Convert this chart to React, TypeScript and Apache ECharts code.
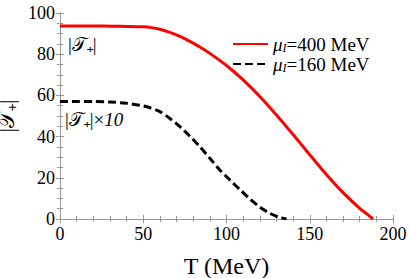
import React, { useEffect, useRef } from "react";
import * as echarts from "echarts";

const temps400 = [0, 10, 20, 30, 40, 50, 55, 60, 66, 72, 78, 84, 90, 100, 110, 120, 130, 140, 150, 160, 170, 180, 185, 188];
const vals400 = [93.7, 93.7, 93.7, 93.6, 93.5, 93.3, 92.9, 92.1, 90.6, 88.6, 86.2, 83.5, 80.4, 74.5, 67.5, 59.5, 50.5, 41.0, 31.2, 21.6, 12.8, 5.2, 2.0, 0];
const temps160 = [0, 10, 20, 30, 40, 48, 54, 60, 66, 72, 78, 84, 90, 96, 102, 108, 114, 120, 126, 131, 136];
const vals160 = [57.0, 57.0, 57.0, 56.8, 56.2, 55.2, 54.0, 52.1, 48.8, 44.8, 40.2, 35.1, 29.5, 23.8, 19.0, 14.3, 9.8, 5.8, 2.8, 1.0, 0];
const xTicks = [0, 50, 100, 150, 200];
const yTicks = [0, 20, 40, 60, 80, 100];
const seriesNames = ["μI=400 MeV", "μI=160 MeV"];

const FONT = "Liberation Serif";

export default function App() {
  const ref = useRef<HTMLDivElement>(null);
  useEffect(() => {
    if (!ref.current) return;
    const chart = echarts.init(ref.current, undefined, { renderer: "svg" });
    const axisLineStyle = { color: "#999", width: 1 };
    const legendRich = {
      m: { fontFamily: FONT, fontSize: 19, fontStyle: "italic", color: "#000", lineHeight: 20 },
      s: { fontFamily: FONT, fontSize: 12, fontStyle: "italic", color: "#000", padding: [8, 0, 0, 0], lineHeight: 12 },
      t: { fontFamily: FONT, fontSize: 19, color: "#000", lineHeight: 20 },
    };
    chart.setOption({
      animation: false,
      grid: { left: 60, right: 16, top: 13, bottom: 59, containLabel: false, outerBoundsMode: "none" },
      legend: {
        left: 232,
        top: 34,
        padding: 0,
        orient: "vertical",
        itemWidth: 35,
        itemHeight: 12,
        itemGap: 0,
        itemStyle: { opacity: 0 },
        data: seriesNames,
        formatter: (name: string) => {
          const v = name.split("=")[1];
          return "{m|μ}{s|I}{t|=" + v + "}";
        },
        textStyle: { rich: legendRich, fontFamily: FONT, fontSize: 19, lineHeight: 20 },
      },
      xAxis: [
        {
          type: "value",
          min: 0,
          max: 200,
          interval: 50,
          name: "T (MeV)",
          nameLocation: "middle",
          nameGap: 35,
          nameTextStyle: { fontFamily: FONT, fontSize: 24, color: "#000" },
          axisLine: { show: true, lineStyle: axisLineStyle },
          axisTick: { show: true, inside: true, length: 4, lineStyle: axisLineStyle },
          minorTick: { show: true, splitNumber: 5, length: 3, lineStyle: axisLineStyle },
          splitLine: { show: false },
          axisLabel: {
            fontFamily: FONT,
            fontSize: 18,
            color: "#000",
            margin: 6,
            formatter: (v: number) => (xTicks.includes(v) ? String(v) : ""),
          },
        },
        {
          type: "value",
          position: "top",
          min: 0,
          max: 200,
          interval: 50,
          axisLine: { show: true, lineStyle: axisLineStyle },
          axisTick: { show: true, inside: true, length: 4, lineStyle: axisLineStyle },
          minorTick: { show: true, splitNumber: 5, length: 3, lineStyle: axisLineStyle },
          splitLine: { show: false },
          axisLabel: { show: false },
        },
      ],
      yAxis: [
        {
          type: "value",
          min: 0,
          max: 100,
          interval: 20,
          name: "|𝒯₊|",
          nameLocation: "middle",
          nameGap: 33,
          nameRotate: 90,
          nameTextStyle: { fontFamily: FONT, fontSize: 22, color: "#000" },
          axisLine: { show: true, lineStyle: axisLineStyle },
          axisTick: { show: true, inside: true, length: 4, lineStyle: axisLineStyle },
          minorTick: { show: true, splitNumber: 4, length: 3, lineStyle: axisLineStyle },
          splitLine: { show: false },
          axisLabel: {
            fontFamily: FONT,
            fontSize: 18,
            color: "#000",
            margin: 5,
            formatter: (v: number) => (yTicks.includes(v) ? String(v) : ""),
          },
        },
        {
          type: "value",
          position: "right",
          min: 0,
          max: 100,
          interval: 20,
          axisLine: { show: true, lineStyle: axisLineStyle },
          axisTick: { show: true, inside: true, length: 4, lineStyle: axisLineStyle },
          minorTick: { show: true, splitNumber: 4, length: 3, lineStyle: axisLineStyle },
          splitLine: { show: false },
          axisLabel: { show: false },
        },
      ],
      series: [
        {
          name: seriesNames[0],
          type: "line",
          data: temps400.map((t, i) => [t, vals400[i]]),
          showSymbol: false,
          symbol: "none",
          smooth: 0.3,
          lineStyle: { color: "#ff0000", width: 3 },
          itemStyle: { color: "#ff0000" },
        },
        {
          name: seriesNames[1],
          type: "line",
          data: temps160.map((t, i) => [t, vals160[i]]),
          showSymbol: false,
          symbol: "none",
          smooth: 0.3,
          lineStyle: { color: "#000", width: 3, type: [8, 4] },
          itemStyle: { color: "#000" },
        },
      ],
      graphic: [
        {
          type: "text",
          left: 68,
          top: 35,
          style: { text: "|𝒯₊|", fontFamily: FONT, fontSize: 19, fill: "#000" },
        },
        {
          type: "text",
          left: 65,
          top: 110,
          style: {
            text: "{a||𝒯₊|×}{b|10}",
            rich: {
              a: { fontFamily: FONT, fontSize: 19, fill: "#000" },
              b: { fontFamily: FONT, fontSize: 19, fontStyle: "italic", fill: "#000" },
            },
          },
        },
      ],
    });
    return () => chart.dispose();
  }, []);
  return <div ref={ref} style={{ width: 409, height: 278, position: "absolute", left: 0, top: 0 }} />;
}
